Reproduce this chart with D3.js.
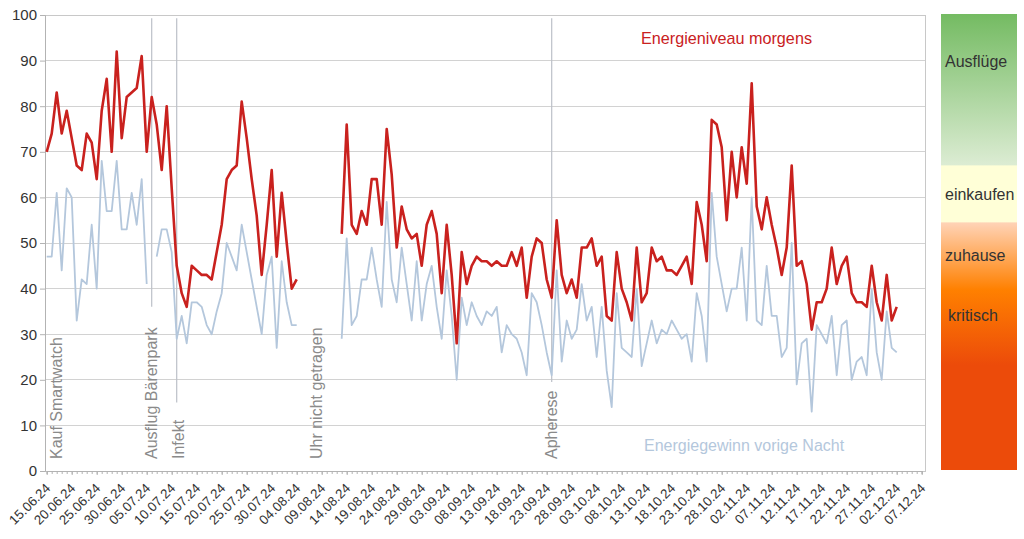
<!DOCTYPE html>
<html>
<head>
<meta charset="utf-8">
<script src="https://cdn.jsdelivr.net/npm/d3@7"></script>
<style>
  html, body { margin: 0; padding: 0; background: #fff; }
  svg { display: block; font-family: "Liberation Sans", Arial, sans-serif; }
</style>
</head>
<body>
<svg id="chart" width="1024" height="539"></svg>
<script>
// ---------- DATA ----------
const startDate = "2024-06-15";
// Energieniveau morgens (one value per day from startDate; null = no data)
const energyMorning = [
  70,74,83,74,79,73,67,66,74,72,
  64,79,86,70,92,73,82,83,84,91,
  70,82,76,66,80,62,45,39,36,45,
  44,43,43,42,48,54,64,66,67,81,
  73,64,56,43,54,66,47,61,50,40,
  42,
  null,null,null,null,null,null,null,null,
  52,76,54,52,57,54,64,64,54,75,
  65,49,58,53,51,52,45,54,57,52,
  39,54,43,28,48,41,45,47,46,46,
  45,46,45,45,48,45,49,38,47,51,
  50,42,38,55,43,39,42,38,49,49,
  51,45,47,34,33,48,40,37,33,49,
  37,39,49,46,47,44,44,43,45,47,
  41,59,54,46,77,76,71,55,70,60,
  71,63,85,58,53,60,54,49,43,49,
  67,45,46,41,31,37,37,40,49,41,
  45,47,39,37,37,36,45,37,33,43,
  33,36
];
// Energiegewinn vorige Nacht
const energyNight = [
  47,47,61,44,62,60,33,42,41,54,
  40,68,57,57,68,53,53,61,54,64,
  41,null,47,53,53,48,29,34,28,37,
  37,36,32,30,35,39,50,47,44,54,
  48,42,36,30,43,47,27,46,37,32,
  32,
  null,null,null,null,null,null,null,null,
  29,51,32,34,42,42,49,42,36,59,
  42,37,49,41,33,46,33,41,45,36,
  29,44,34,20,38,32,37,34,32,35,
  34,36,26,32,30,29,26,21,39,37,
  32,26,21,44,24,33,29,31,41,33,
  36,25,36,22,14,39,27,26,25,40,
  23,28,33,28,31,30,33,31,29,30,
  24,39,34,24,61,47,41,35,40,40,
  49,33,60,33,32,45,34,34,25,27,
  50,19,28,29,13,32,30,28,34,21,
  32,33,20,24,25,21,40,26,20,35,
  27,26
];
const xTickLabels = ["15.06.24","20.06.24","25.06.24","30.06.24","05.07.24","10.07.24","15.07.24","20.07.24",
  "25.07.24","30.07.24","04.08.24","09.08.24","14.08.24","19.08.24","24.08.24","29.08.24","03.09.24",
  "08.09.24","13.09.24","18.09.24","23.09.24","28.09.24","03.10.24","08.10.24","13.10.24","18.10.24",
  "23.10.24","28.10.24","02.11.24","07.11.24","12.11.24","17.11.24","22.11.24","27.11.24","02.12.24","07.12.24"];
const yTicks = [0,10,20,30,40,50,60,70,80,90,100];
const eventDates  = ["15.06.24","06.07.24","11.07.24","08.08.24","24.09.24"];
const eventLabels = ["Kauf Smartwatch","Ausflug Bärenpark","Infekt","Uhr nicht getragen","Apherese"];
const eventLineTo = [null, 36, 15, null, 19.5];   // value where the marker line ends (null = no line)
const seriesNames = ["Energieniveau morgens","Energiegewinn vorige Nacht"];
const zoneLabels = ["Ausflüge","einkaufen","zuhause","kritisch"];

// ---------- SETUP ----------
const parseLabel = d3.timeParse("%d.%m.%y");
const day0 = d3.timeParse("%Y-%m-%d")(startDate);
const dates = energyMorning.map((_, i) => d3.timeDay.offset(day0, i));
const tickDates = xTickLabels.map(parseLabel);

const svg = d3.select("#chart");
const W = 1024, H = 539;
const plot = {left: 45, right: 925, top: 15, bottom: 471};

svg.append("rect").attr("width", W).attr("height", H).attr("fill", "#fff");

const x = d3.scaleTime()
  .domain([tickDates[0], tickDates[tickDates.length - 1]])
  .range([46.7, 921.7]);
const y = d3.scaleLinear().domain([0, 100]).range([plot.bottom, plot.top]);

// gridlines
svg.append("g").selectAll("line").data(yTicks).join("line")
  .attr("x1", plot.left).attr("x2", plot.right)
  .attr("y1", d => y(d)).attr("y2", d => y(d))
  .attr("stroke", "#d2d2d2").attr("stroke-width", 1).attr("shape-rendering", "crispEdges");

// frame
svg.append("rect")
  .attr("x", plot.left).attr("y", plot.top)
  .attr("width", plot.right - plot.left).attr("height", plot.bottom - plot.top)
  .attr("fill", "none").attr("stroke", "#c8c8c8").attr("shape-rendering", "crispEdges");

// y axis
const yAxis = svg.append("g").attr("transform", `translate(${plot.left},0)`)
  .call(d3.axisLeft(y).tickValues(yTicks).tickSize(5).tickPadding(3));
yAxis.select(".domain").attr("stroke", "#b3b3b3");
yAxis.selectAll(".tick line").attr("stroke", "#b3b3b3");
yAxis.selectAll("text").attr("font-size", 15).attr("fill", "#333")
  .attr("font-family", "Liberation Sans, Arial, sans-serif");

// x axis minor ticks (daily)
const xMinor = svg.append("g").attr("transform", `translate(0,${plot.bottom})`)
  .call(d3.axisBottom(x).ticks(d3.timeDay.every(1)).tickSize(3).tickFormat(""));
xMinor.select(".domain").attr("stroke", "#b3b3b3");
xMinor.selectAll(".tick line").attr("stroke", "#b3b3b3");

// x axis labels (rotated)
const xMajor = svg.append("g").attr("transform", `translate(0,${plot.bottom})`)
  .call(d3.axisBottom(x).tickValues(tickDates).tickSize(4).tickFormat((d, i) => xTickLabels[i]));
xMajor.select(".domain").remove();
xMajor.selectAll(".tick line").attr("stroke", "#b3b3b3");
xMajor.selectAll("text")
  .attr("font-size", 13.3).attr("fill", "#333")
  .attr("font-family", "Liberation Sans, Arial, sans-serif")
  .attr("text-anchor", "end")
  .attr("x", 0).attr("y", 0).attr("dy", 0)
  .attr("transform", "translate(4,18) rotate(-45)");

// event markers
const evG = svg.append("g");
eventDates.forEach((ds, i) => {
  const ex = x(parseLabel(ds));
  if (eventLineTo[i] !== null) {
    evG.append("line")
      .attr("x1", ex).attr("x2", ex)
      .attr("y1", y(99.3)).attr("y2", y(eventLineTo[i]))
      .attr("stroke", "#bcc0c8").attr("stroke-width", 1.2);
  }
});
const textShift = [10, 0, 2, 0, 0];
eventLabels.forEach((lab, i) => {
  const cx = x(parseLabel(eventDates[i])) + textShift[i];
  evG.append("text")
    .attr("transform", `translate(${cx + 5.5},459) rotate(-90)`)
    .attr("text-anchor", "start")
    .attr("font-size", 16).attr("fill", "#8a8a8a")
    .text(lab);
});

// lines
const mkLine = d3.line()
  .defined(d => d.v !== null)
  .x(d => x(d.date)).y(d => y(d.v));

const nightData = energyNight.map((v, i) => ({date: dates[i], v}));
const morningData = energyMorning.map((v, i) => ({date: dates[i], v}));

svg.append("path").datum(nightData)
  .attr("d", mkLine).attr("fill", "none")
  .attr("stroke", "#b4c7dc").attr("stroke-width", 1.8).attr("stroke-linejoin", "round");
svg.append("path").datum(morningData)
  .attr("d", mkLine).attr("fill", "none")
  .attr("stroke", "#c9211e").attr("stroke-width", 2.6).attr("stroke-linejoin", "round");

// series labels
svg.append("text").attr("x", 641).attr("y", 44)
  .attr("font-size", 16.2).attr("fill", "#c9211e").text(seriesNames[0]);
svg.append("text").attr("x", 644).attr("y", 451)
  .attr("font-size", 16).attr("fill", "#b4c7dc").text(seriesNames[1]);

// zone colour bar
const defs = svg.append("defs");
const grad = defs.append("linearGradient").attr("id", "zones")
  .attr("x1", 0).attr("x2", 0).attr("y1", 0).attr("y2", 1);
[
  [0, "#74bb62"], [0.331, "#dcecd3"], [0.333, "#ffffd7"], [0.456, "#ffffd7"],
  [0.458, "#ffd3b6"], [0.605, "#ff8000"], [0.77, "#ec4b0a"], [1, "#ec4b0a"]
].forEach(s => grad.append("stop").attr("offset", s[0]).attr("stop-color", s[1]));
svg.append("rect").attr("x", 941).attr("y", 14).attr("width", 76).attr("height", 456)
  .attr("fill", "url(#zones)");
const zoneY = [67, 200, 261, 321];
const zoneX = [945, 945, 945, 948];
zoneLabels.forEach((z, i) => {
  svg.append("text").attr("x", zoneX[i]).attr("y", zoneY[i])
    .attr("font-size", 16).attr("fill", "#333").text(z);
});
</script>
</body>
</html>
